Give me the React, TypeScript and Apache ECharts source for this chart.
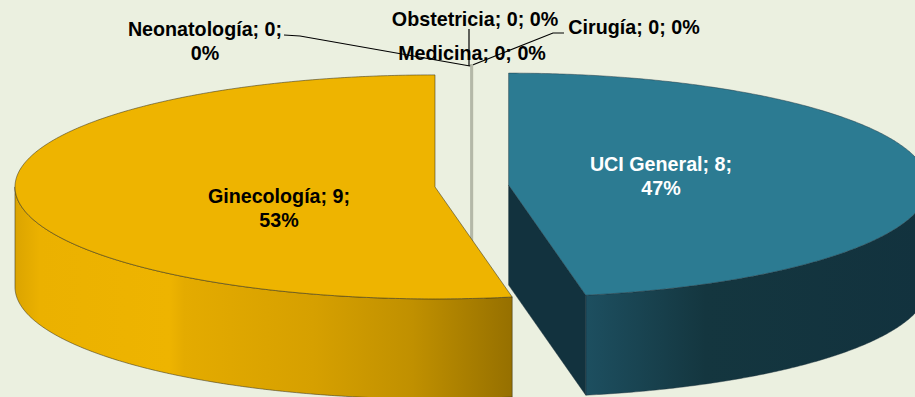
import React, { useEffect, useRef } from "react";
import * as echarts from "echarts";

const categories = ["UCI General", "Ginecología", "Neonatología", "Obstetricia", "Medicina", "Cirugía"];
const values = [8, 9, 0, 0, 0, 0];
const labelLines = [2, 2, 2, 1, 1, 1];

const topColors = ["#2c7b92", "#eeb400", "#b4b8a8", "#b4b8a8", "#b4b8a8", "#b4b8a8"];
const cutColor = "#12323e";
const wallStops = [
  [
    [0, "#1d4f60"],
    [0.35, "#14363f"],
    [1, "#12323e"],
  ],
  [
    [0, "#dba400"],
    [0.05, "#ebb100"],
    [0.31, "#eeb400"],
    [0.34, "#e4ab00"],
    [0.6, "#d6a000"],
    [0.8, "#c09000"],
    [1, "#967000"],
  ],
];
const labelAt = [
  [661, 176, "#ffffff"],
  [279, 208, "#000000"],
  [205, 41, "#000000"],
  [475, 19, "#000000"],
  [472, 53, "#000000"],
  [634, 27, "#000000"],
];
const leaderLines = [
  null,
  null,
  [[284, 35], [300, 36], [470, 66]],
  [[469, 29], [469, 66]],
  null,
  [[470, 66], [553, 33], [564, 33]],
];

const CX = 471.8;
const CY = 186;
const RX = 420;
const RY = 112;
const DEPTH = 100;
const EXPLODE = 0.088;
const total = values.reduce((a, b) => a + b, 0);
const rad = (d: number) => (d * Math.PI) / 180;

function arc(cx: number, cy: number, from: number, to: number, dy = 0) {
  const pts: number[][] = [];
  const n = Math.max(1, Math.ceil(Math.abs(to - from) * 2));
  for (let i = 0; i <= n; i++) {
    const t = rad(from + ((to - from) * i) / n);
    pts.push([cx + RX * Math.sin(t), cy - RY * Math.cos(t) + dy]);
  }
  return pts;
}

function renderItem(_params: any, api: any) {
  const idx = api.value(0);
  const value = api.value(1);
  const start = api.value(2);
  const end = api.value(3);
  const mid = (start + end) / 2;
  const cx = CX + EXPLODE * RX * Math.sin(rad(mid));
  const cy = CY - EXPLODE * RY * Math.cos(rad(mid));
  const edge = idx === 0 ? "rgba(30,50,60,0.6)" : "rgba(60,55,30,0.75)";
  const children: any[] = [];

  if (value === 0) {
    const rimY = cy - RY;
    children.push({
      type: "line",
      shape: { x1: cx, y1: rimY, x2: cx, y2: cy + DEPTH },
      style: { stroke: topColors[idx], lineWidth: 2.5 },
    });
  } else {
    const w0 = Math.max(start, 90);
    const w1 = Math.min(end, 270);
    if (w1 > w0) {
      const upper = arc(cx, cy, w0, w1);
      const lower = arc(cx, cy, w1, w0, DEPTH);
      children.push({
        type: "polygon",
        shape: { points: upper.concat(lower) },
        style: {
          fill: new echarts.graphic.LinearGradient(
            0, 0, 1, 0,
            wallStops[idx].map((s: any) => ({ offset: s[0], color: s[1] })),
          ),
          stroke: edge,
          lineWidth: 0.75,
        },
      });
    }
    if (end > 0 && end < 180) {
      const p = arc(cx, cy, end, end)[0];
      children.push({
        type: "polygon",
        shape: { points: [[cx, cy], p, [p[0], p[1] + DEPTH], [cx, cy + DEPTH]] },
        style: { fill: cutColor, stroke: edge, lineWidth: 0.75 },
      });
    }
    children.push({
      type: "polygon",
      shape: { points: [[cx, cy]].concat(arc(cx, cy, start, end)) },
      style: { fill: topColors[idx], stroke: edge, lineWidth: 0.75 },
    });
  }

  const line = leaderLines[idx];
  if (line) {
    children.push({
      type: "polyline",
      shape: { points: line },
      style: { fill: "none", stroke: "#000000", lineWidth: 1.2 },
    });
  }
  const pct = Math.round((value / total) * 100);
  const sep = labelLines[idx] === 2 ? "\n" : " ";
  const text = `${categories[idx]}; ${value};${sep}${pct}%`;
  const at = labelAt[idx];
  children.push({
    type: "text",
    x: at[0],
    y: at[1],
    z2: 10,
    style: {
      text,
      fill: at[2],
      fontFamily: "Liberation Sans",
      fontWeight: "bold",
      fontSize: 19.7,
      lineHeight: 24,
      align: "center",
      verticalAlign: "middle",
    },
  });
  return { type: "group", children };
}

export default function App() {
  const ref = useRef<HTMLDivElement>(null);
  useEffect(() => {
    const chart = echarts.init(ref.current!, null, { renderer: "svg" });
    let acc = 0;
    const rows = categories.map((name, i) => {
      const start = (acc / total) * 360;
      acc += values[i];
      const end = (acc / total) * 360;
      return { name, value: [i, values[i], start, end] };
    });
    chart.setOption({
      animation: false,
      backgroundColor: "#ebf0e0",
      series: [
        {
          type: "custom",
          coordinateSystem: "none",
          renderItem,
          silent: true,
          data: rows.slice().reverse(),
        },
      ],
    });
    return () => chart.dispose();
  }, []);
  return (
    <div
      ref={ref}
      style={{ position: "absolute", left: 0, top: 0, width: 915, height: 397, overflow: "hidden" }}
    />
  );
}
